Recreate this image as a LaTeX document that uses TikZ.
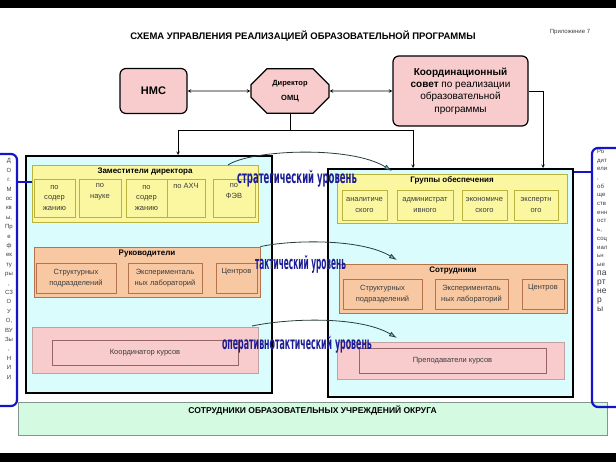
\documentclass[tikz,border=0pt]{standalone}
\usepackage{graphicx}
\usepackage{fontspec}
\setmainfont{Liberation Sans}
\newfontfamily\levelfont{DejaVu Sans Condensed}
\usetikzlibrary{positioning,shapes.misc,arrows.meta}
\definecolor{boxpink}{RGB}{248,204,204}
\definecolor{pinkline}{RGB}{150,100,100}
\definecolor{lightcyan}{RGB}{218,252,252}
\definecolor{boxyellow}{RGB}{250,247,160}
\definecolor{yellowline}{RGB}{185,178,60}
\definecolor{boxorange}{RGB}{248,200,162}
\definecolor{orangeline}{RGB}{180,115,75}
\definecolor{boxmint}{RGB}{212,250,226}
\definecolor{mintline}{RGB}{130,150,140}
\definecolor{bracketblue}{RGB}{20,20,200}
\definecolor{levelblue}{RGB}{28,28,150}
\definecolor{arrowteal}{RGB}{110,205,205}
\definecolor{arrowline}{RGB}{40,60,60}
\definecolor{smalltext}{RGB}{60,60,60}

\begin{document}
\begin{tikzpicture}[x=1pt, y=-1pt, node distance=2pt,
  topbox/.style={draw, line width=1.2pt, rounded corners=6pt, fill=boxpink, align=center},
  bigbox/.style={draw, line width=1.4pt, fill=lightcyan},
  groupbox/.style={line width=0.8pt},
  boxtitle/.style={inner sep=1pt, font=\bfseries\fontsize{8}{9}\selectfont},
  cell/.style={line width=0.7pt, align=center, inner sep=1pt, text=smalltext, font=\fontsize{7.5}{10.5}\selectfont},
  yellowcell/.style={cell, draw=yellowline, fill=boxyellow},
  orangecell/.style={cell, draw=orangeline, fill=boxorange},
  pinkcell/.style={cell, draw=pinkline},
  level/.style={text=levelblue, inner sep=0pt, font=\levelfont\bfseries},
  levelarrow/.style={draw=arrowline, line width=0.8pt, -{Latex[length=8pt, width=5pt, fill=arrowteal]}},
  link/.style={line width=0.6pt},
  bluebox/.style={draw=bracketblue, line width=2.2pt, rounded corners=6pt},
  sidetext/.style={text=smalltext, align=center, inner sep=0pt, font=\fontsize{6}{9.4}\selectfont}]
\useasboundingbox (0,0) rectangle (616,462);
\fill (0,0) rectangle (616,8);
\fill (0,453) rectangle (616,462);

\node (title)[font=\bfseries\fontsize{9.5}{11}\selectfont] at (303,36) {СХЕМА УПРАВЛЕНИЯ РЕАЛИЗАЦИЕЙ ОБРАЗОВАТЕЛЬНОЙ ПРОГРАММЫ};
\node (appendix)[text=smalltext, font=\fontsize{6}{7}\selectfont] at (570,32) {Приложение 7};

\node (nms)[topbox, minimum width=67pt, minimum height=45pt, font=\bfseries\fontsize{11}{13}\selectfont] at (153.5,91) {НМС};
\node (dir)[draw, line width=1.2pt, fill=boxpink, chamfered rectangle, chamfered rectangle xsep=8pt, chamfered rectangle ysep=8pt, minimum width=78pt, minimum height=39pt, align=center, font=\bfseries\fontsize{7.5}{9}\selectfont] at (290,91) {Директор\\[6pt]ОМЦ};
\node (council)[topbox, minimum width=135pt, minimum height=70pt, font=\fontsize{10}{12.3}\selectfont] at (460.5,91) {\textbf{Координационный}\\\textbf{совет} по реализации\\образовательной\\программы};

\draw[link, stealth-stealth] (nms) -- (dir);
\draw[link, stealth-stealth] (dir) -- (council);
\coordinate (fork) at (290,130);
\coordinate (leftin) at (178,155);
\coordinate (rightin) at (413,168);
\coordinate (councilin) at (543,168);
\draw[link] (dir) -- (fork);
\draw[link, -stealth] (fork) -| (leftin);
\draw[link, -stealth] (fork) -| (rightin);
\draw[link, -stealth] (council.east) -| (councilin);

\node (staff)[draw=mintline, line width=0.8pt, fill=boxmint, minimum width=589pt, minimum height=33pt] at (312.5,418.5) {};
\node (stafftext)[below=3pt of staff.north, inner sep=1pt, font=\bfseries\fontsize{8.5}{10}\selectfont] {СОТРУДНИКИ ОБРАЗОВАТЕЛЬНЫХ УЧРЕЖДЕНИЙ ОКРУГА};

\node (lbox)[bigbox, minimum width=246pt, minimum height=237pt] at (149,274.5) {};
\node (rbox)[bigbox, minimum width=245pt, minimum height=228pt] at (450.5,283) {};

\node (zam)[groupbox, draw=yellowline, fill=boxyellow, minimum width=226pt, minimum height=57pt] at (145,193.5) {};
\node (zamtitle)[boxtitle, below=2pt of zam.north] {Заместители директора};
\node (zam1)[yellowcell, minimum width=41pt, minimum height=38pt] at (54.5,198) {по\\содер\\жанию};
\node (zam2)[yellowcell, minimum width=42pt, minimum height=38pt] at (100,198) {по\\науке\\\strut};
\node (zam3)[yellowcell, minimum width=41pt, minimum height=38pt] at (146.5,198) {по\\содер\\жанию};
\node (zam4)[yellowcell, minimum width=38pt, minimum height=38pt] at (186,198) {по АХЧ\\\strut\\\strut};
\node (zam5)[yellowcell, minimum width=42pt, minimum height=38pt] at (234,198) {по\\ФЭВ\\\strut};

\node (ruk)[groupbox, draw=orangeline, fill=boxorange, minimum width=226pt, minimum height=50pt] at (147,272) {};
\node (ruktitle)[boxtitle, below=2pt of ruk.north] {Руководители};
\node (ruk1)[orangecell, minimum width=80pt, minimum height=30pt] at (76,278) {Структурных\\подразделений};
\node (ruk2)[orangecell, minimum width=74pt, minimum height=30pt] at (165,278) {Эксперименталь\\ных лабораторий};
\node (ruk3)[orangecell, minimum width=41pt, minimum height=30pt] at (236.5,278) {Центров\\\strut};

\node (koord)[groupbox, draw=pinkline!60, fill=boxpink, minimum width=226pt, minimum height=46pt] at (145,350) {};
\node (koordcell)[pinkcell, minimum width=186pt, minimum height=25pt] at (145,352.5) {Координатор курсов};

\node (grp)[groupbox, draw=yellowline, fill=boxyellow, minimum width=230pt, minimum height=49pt] at (452,198.5) {};
\node (grptitle)[boxtitle, below=2pt of grp.north] {Группы обеспечения};
\node (grp1)[yellowcell, minimum width=45pt, minimum height=30pt] at (364.5,205) {аналитиче\\ского};
\node (grp2)[yellowcell, minimum width=56pt, minimum height=30pt] at (425,205) {администрат\\ивного};
\node (grp3)[yellowcell, minimum width=45pt, minimum height=30pt] at (484.5,205) {экономиче\\ского};
\node (grp4)[yellowcell, minimum width=44pt, minimum height=30pt] at (536,205) {экспертн\\ого};

\node (sotr)[groupbox, draw=orangeline, fill=boxorange, minimum width=228pt, minimum height=49pt] at (453,288.5) {};
\node (sotrtitle)[boxtitle, below=2pt of sotr.north] {Сотрудники};
\node (sotr1)[orangecell, minimum width=79pt, minimum height=30pt] at (382.5,294) {Структурных\\подразделений};
\node (sotr2)[orangecell, minimum width=73pt, minimum height=30pt] at (471.5,294) {Эксперименталь\\ных лабораторий};
\node (sotr3)[orangecell, minimum width=42pt, minimum height=30pt] at (543,294) {Центров\\\strut};

\node (prep)[groupbox, draw=pinkline!60, fill=boxpink, minimum width=227pt, minimum height=37pt] at (450.5,360.5) {};
\node (prepcell)[pinkcell, minimum width=187pt, minimum height=25pt] at (452.5,360.5) {Преподаватели курсов};

\node (orgs)[bluebox, minimum width=24pt, minimum height=252pt] at (5,280) {};
\node (orgstext)[sidetext] at (9,269) {Д\\О\\г.\\М\\ос\\кв\\ы,\\Пр\\е\\ф\\ек\\ту\\ры\\,\\СЗ\\О\\У\\О,\\ВУ\\Зы\\,\\Н\\И\\И};
\draw[bracketblue, line width=2.2pt] (orgs.east |- 0,182) -- (zam.west |- 0,182);

\node (parents)[bluebox, minimum width=34pt, minimum height=259pt] at (609,277.5) {};
\node (parentstext)[sidetext, align=left, anchor=north west, font=\fontsize{6}{8.7}\selectfont] at (597,149) {Ро\\дит\\ели\\,\\об\\ще\\ств\\енн\\ост\\ь,\\соц\\иал\\ьн\\ые};
\node (partners)[sidetext, align=left, font=\fontsize{8.5}{9}\selectfont, below=4pt of parentstext.south west, anchor=north west] {па\\рт\\не\\р\\ы};
\draw[bracketblue, line width=2.2pt] (rbox.east |- 0,172) -- (parents.west |- 0,172);

\coordinate (stratto) at (392,171);
\coordinate (tactto) at (397,260);
\coordinate (operto) at (397,338);
\draw[levelarrow] (228,165) .. controls (250,150) and (350,145) .. (stratto);
\draw[levelarrow] (ruk.north east) .. controls (290,240) and (360,238) .. (tactto);
\draw[levelarrow] (252,326) .. controls (290,318) and (360,316) .. (operto);

\node (strat)[level] at (297,178.5) {\resizebox*{120pt}{17pt}{стратегический уровень}};
\node (tact)[level] at (300.5,264) {\resizebox*{91pt}{18pt}{тактический уровень}};
\node (oper)[level] at (297,344.5) {\resizebox*{150pt}{17pt}{оперативнотактический уровень}};
\end{tikzpicture}
\end{document}
